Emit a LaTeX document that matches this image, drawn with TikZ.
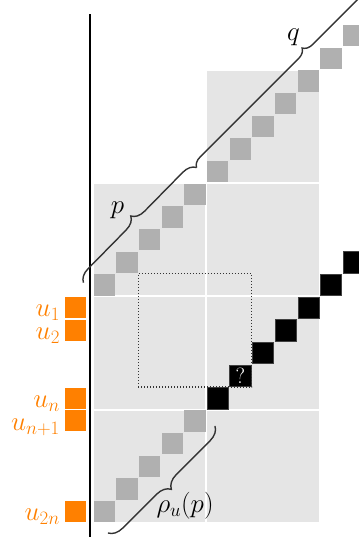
\RequirePackage{fix-cm}
\documentclass[tikz,border=0pt]{standalone}
\usetikzlibrary{decorations.pathreplacing}
\definecolor{bgcell}{RGB}{229,229,229}
\definecolor{graycell}{RGB}{176,176,176}
\definecolor{uorange}{RGB}{255,128,0}
\definecolor{bracecol}{RGB}{51,51,51}
\begin{document}
\begin{tikzpicture}[x=22.67pt,y=22.67pt,
  bigfont/.style={font=\fontsize{27}{32}\selectfont},
  cellbox/.style={minimum size=21.3pt, inner sep=0pt, outer sep=0pt},
  pcell/.style={cellbox, fill=graycell},
  bcell/.style={cellbox, fill=black, draw=black!75, line width=0.4pt},
  ucell/.style={cellbox, minimum size=21pt, fill=uorange},
  ulabel/.style={bigfont, text=uorange, anchor=base east, inner sep=0pt},
  mlabel/.style={bigfont, text=black, anchor=base, inner sep=0pt},
  bracepath/.style={draw=bracecol, line width=1.4pt, decorate,
    decoration={brace, amplitude=#1}},
  frame/.style={draw=black!80, line width=1.1pt, dash pattern=on 1.1pt off 1.9pt},
]
\useasboundingbox (-4.102,-0.706) rectangle (11.734,23.07);
\clip (-4.102,-0.706) rectangle (11.734,23.07);

% grey 5x5 blocks
\foreach \bx/\by in {0/0,5/0,0/5,5/5,0/10,5/10,5/15}
  \fill[bgcell] (\bx+0.045,\by+0.045) rectangle (\bx+4.955,\by+4.955);

% upper diagonal (p, then q)
\foreach \i in {0,...,13}
  \node[pcell] (up\i) at (\i+0.5,10.5+\i) {};

% lower diagonal: grey part, then black part
\foreach \i in {0,...,4}
  \node[pcell] (lo\i) at (\i+0.5,\i+0.5) {};
\foreach \i in {5,7,8,9,10,11,12,13}
  \node[bcell] (lo\i) at (\i+0.5,\i+0.5) {};
\node[bcell, text=white, font=\fontsize{22}{26}\selectfont] (lo6) at (6.5,6.5) {?};

% dotted window
\draw[frame] (2,6) rectangle (7,11);

% vertical axis
\coordinate (axtop) at (-0.146,22.45);
\coordinate (axbot) at (-0.146,-0.6);
\draw[line width=1.7pt] (axtop) -- (axbot);

% orange markers and their labels
\foreach \nm/\row/\txt in {u1/9/{u_1}, u2/8/{u_2}, un/5/{u_n}, un1/4/{u_{n+1}}, u2n/0/{u_{2n}}}{
  \node[ucell] (\nm) at (-0.75,\row+0.5) {};
  \node[ulabel] (l\nm) at (-1.45,\row+0.1) {$\txt$};
}

% braces
\coordinate (pa) at (-0.42,10.6);
\coordinate (pb) at (4.57,15.68);
\coordinate (qb) at (14.5,25.6);
\coordinate (ra) at (5.38,4.28);
\coordinate (rb) at (0.66,-0.44);
\draw[bracepath=13pt] (pa) -- (pb);
\draw[bracepath=10pt] (pb) -- (qb);
\draw[bracepath=14pt] (ra) -- (rb);

\node[mlabel] (lp) at (1.08,13.67) {$p$};
\node[mlabel] (lq) at (8.84,21.3) {$q$};
\node[mlabel] (lr) at (4.06,0.45) {$\rho_u(p)$};
\end{tikzpicture}
\end{document}
